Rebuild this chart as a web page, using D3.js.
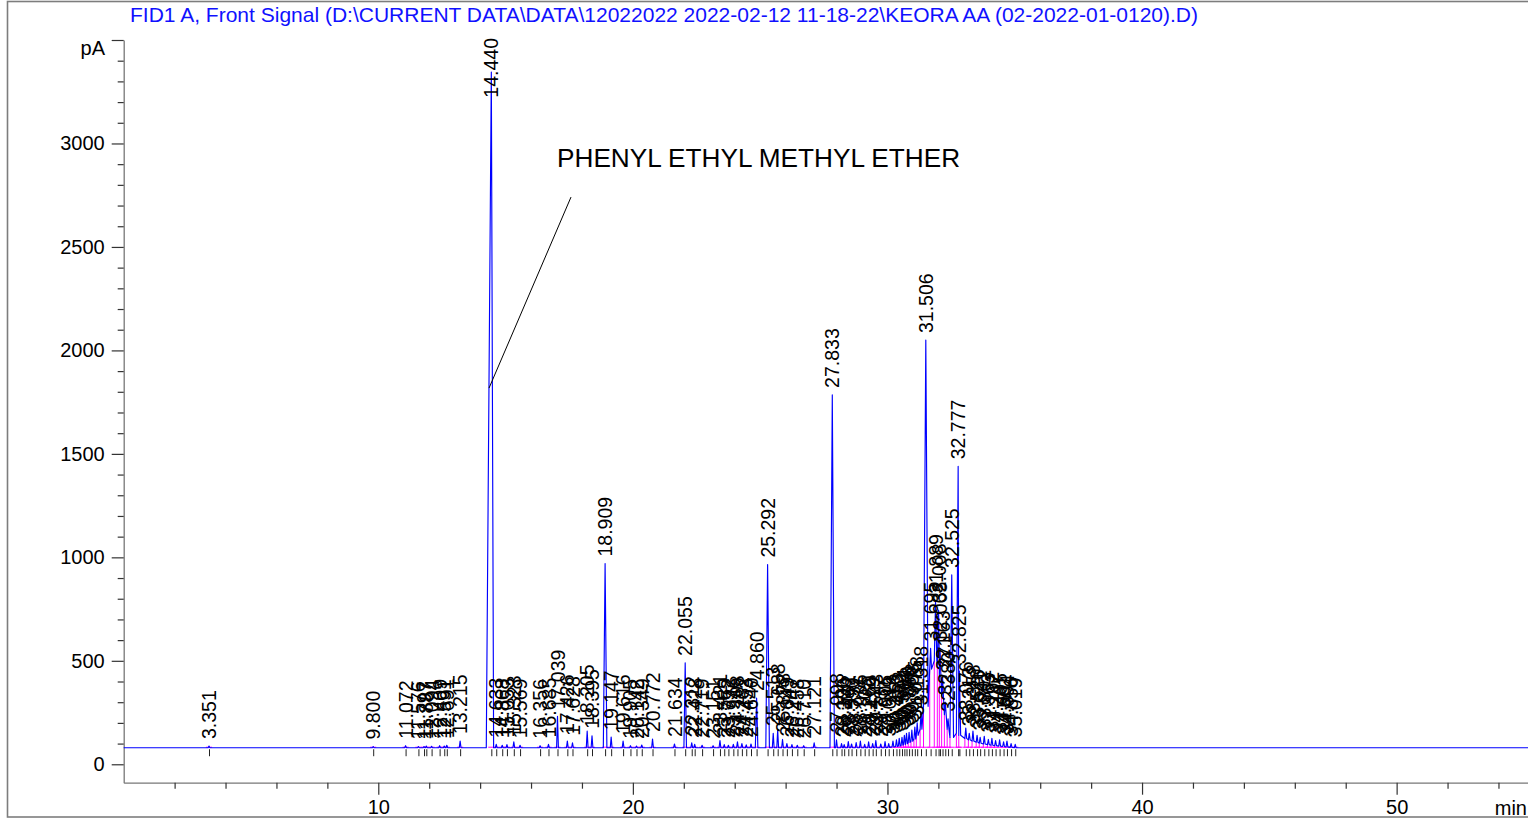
<!DOCTYPE html>
<html>
<head>
<meta charset="utf-8">
<script src="https://cdn.jsdelivr.net/npm/d3@7"></script>
<style>
  html, body { margin: 0; padding: 0; background: #fff; }
  svg { display: block; font-family: "Liberation Sans", Arial, sans-serif; }
</style>
</head>
<body>
<svg id="chart" width="1528" height="819"></svg>
<script>
// ---- chromatogram data -------------------------------------------------
const titleText = "FID1 A, Front Signal (D:\\CURRENT DATA\\DATA\\12022022 2022-02-12 11-18-22\\KEORA AA (02-2022-01-0120).D)";
const signalUnit = "pA";
const timeUnit = "min";
const yMajorTicks = [0, 500, 1000, 1500, 2000, 2500, 3000];
const xMajorTicks = [10, 20, 30, 40, 50];
const baselineSignal = 80;           // detector baseline, pA

// retention time (min) of every integrated peak
const retentionTimes = [
  3.351, 9.800, 11.072, 11.576, 11.797, 11.887, 12.094, 12.409, 12.591, 12.691, 13.215,
  14.440, 14.633, 14.868, 15.053, 15.323, 15.569,
  16.356, 16.685, 17.039, 17.426, 17.628, 18.205, 18.395, 18.909, 19.147, 19.616, 19.905, 20.142, 20.349, 20.772,
  21.634, 22.055, 22.312, 22.428, 22.719, 23.151, 23.421, 23.589, 23.752, 23.946, 24.108, 24.282, 24.453, 24.640, 24.860,
  25.292, 25.513, 25.688, 25.878, 26.049, 26.247, 26.458, 26.710, 27.121,
  27.833, 27.998, 28.196, 28.300, 28.462, 28.590, 28.771, 28.936, 29.105, 29.260, 29.419, 29.543, 29.737,
  29.905, 30.049, 30.216, 30.353, 30.462, 30.571, 30.664, 30.748, 30.850, 30.958, 31.075, 31.168, 31.318,
  31.506, 31.695, 31.889, 32.008, 32.065, 32.163, 32.271, 32.380, 32.525, 32.777, 32.825,
  33.076, 33.213, 33.358, 33.520, 33.641, 33.802, 33.963, 34.102, 34.247, 34.405, 34.561, 34.694, 34.856, 35.019
];

// signal at each peak apex, pA
const apexSignal = [
  88, 86, 90, 86, 85, 88, 87, 90, 88, 92, 112,
  3345, 96, 92, 95, 108, 92,
  90, 96, 232, 112, 104, 160, 138, 970, 132, 112, 90, 88, 93, 122,
  98, 490, 104, 96, 92, 90, 115, 95, 92, 96, 108, 100, 94, 98, 320,
  965, 150, 166, 120, 100, 95, 92, 90, 104,
  1785, 118, 100, 95, 110, 98, 105, 112, 96, 108, 100, 115, 98,
  110, 100, 112, 118, 125, 130, 140, 150, 155, 165, 180, 200, 250,
  2050, 560, 790, 745, 560, 420, 300, 220, 915, 1440, 450,
  175, 150, 160, 140, 130, 135, 120, 125, 115, 118, 108, 112, 100, 96
];

// signal level the peak sits on (raised where peaks co-elute), pA
const baseSignal = [
  80, 80, 80, 80, 80, 80, 80, 80, 80, 80, 80,
  80, 80, 80, 80, 80, 80,
  80, 80, 80, 80, 80, 80, 80, 80, 80, 80, 80, 80, 80, 80,
  80, 80, 80, 80, 80, 80, 80, 80, 80, 80, 80, 80, 80, 80, 80,
  80, 80, 80, 80, 80, 80, 80, 80, 80,
  80, 80, 80, 80, 80, 80, 80, 80, 80, 80, 80, 80, 80,
  80, 82, 84, 86, 88, 92, 96, 100, 106, 112, 122, 140, 170,
  280, 460, 500, 480, 420, 330, 240, 170, 130, 150, 140,
  125, 118, 112, 106, 102, 98, 95, 92, 90, 88, 86, 84, 82, 80
];

// callout naming the main component
const callout = { text: "PHENYL ETHYL METHYL ETHER", at: [17.02, 2886], from: [17.57, 2741], to: [14.35, 1818] };

// ---- layout -------------------------------------------------------------
const svg = d3.select("#chart");
const x = d3.scaleLinear().domain([0, 55.16]).range([123.7, 1528]);
const y = d3.scaleLinear().domain([-89, 3500]).range([782.7, 40]);
const fmt = d3.format(".3f");

// outer frame
svg.append("rect")
  .attr("x", 7.5).attr("y", 1.5).attr("width", 1540).attr("height", 815.5)
  .attr("fill", "none").attr("stroke", "#7d7d7d").attr("stroke-width", 1.6);

// title
svg.append("text")
  .attr("x", 130).attr("y", 21.5)
  .attr("fill", "#1010ff")
  .style("font-size", "21px")
  .text(titleText);

// ---- axes ---------------------------------------------------------------
const yMinor = d3.range(0, 3501, 100).filter(v => !yMajorTicks.includes(v) && v !== 3500);
const xMinor = d3.range(2, 55, 2).filter(v => !xMajorTicks.includes(v));

function styleAxis(g) {
  g.select(".domain").attr("stroke", "#777").attr("stroke-width", 1.3);
  g.selectAll(".tick line").attr("stroke", "#333").attr("stroke-width", 1.2);
  g.selectAll(".tick text").attr("fill", "#000").style("font-size", "20px")
    .style("font-family", '"Liberation Sans", Arial, sans-serif');
}

const yAxisG = svg.append("g").attr("transform", `translate(${x(0)},0)`);
yAxisG.call(d3.axisLeft(y).tickValues(yMajorTicks.concat([3500])).tickSize(12).tickSizeOuter(0).tickPadding(7)
  .tickFormat(d => d === 3500 ? "" : d3.format("d")(d)));
yAxisG.append("g").call(d3.axisLeft(y).tickValues(yMinor).tickSize(6).tickSizeOuter(0).tickFormat(""))
  .call(g => g.select(".domain").remove());
yAxisG.call(styleAxis);

svg.append("text").attr("x", x(0) - 18.7).attr("y", 55).attr("text-anchor", "end")
  .style("font-size", "20px").attr("fill", "#000").text(signalUnit);

const xAxisG = svg.append("g").attr("transform", `translate(0,${y(-89)})`);
xAxisG.call(d3.axisBottom(x).tickValues(xMajorTicks).tickSize(12).tickSizeOuter(0).tickPadding(5.5)
  .tickFormat(d3.format("d")));
xAxisG.append("g").call(d3.axisBottom(x).tickValues(xMinor).tickSize(6).tickSizeOuter(0).tickFormat(""))
  .call(g => g.select(".domain").remove());
xAxisG.call(styleAxis);

svg.append("text").attr("x", 1527).attr("y", 815).attr("text-anchor", "end")
  .style("font-size", "20px").attr("fill", "#000").text(timeUnit);

// ---- signal trace -------------------------------------------------------
const peaks = retentionTimes.map((t, i) => ({ t, apex: apexSignal[i], base: baseSignal[i] }));

function halfWidth(p) {
  const h = p.apex - p.base;
  return h > 1500 ? 0.09 : h > 600 ? 0.07 : h > 200 ? 0.05 : 0.035;
}

peaks.forEach((p, i) => {
  const hw = halfWidth(p);
  const prev = peaks[i - 1], next = peaks[i + 1];
  p.left = Math.max(p.t - hw * (p.apex > 3000 ? 2.2 : 1), prev ? (prev.t + p.t) / 2 : -Infinity);
  p.right = Math.min(p.t + hw, next ? (p.t + next.t) / 2 : Infinity);
});

const tracePts = [[0, baselineSignal]];
peaks.forEach(p => {
  tracePts.push([p.left, p.base], [p.t, p.apex], [p.right, p.base]);
});
tracePts.push([x.domain()[1], baselineSignal]);

const line = d3.line().x(d => x(d[0])).y(d => y(d[1]));

// integration baseline and drop lines
const integ = svg.append("g").attr("stroke", "#ff00ff").attr("stroke-width", 1).attr("fill", "none");
peaks.forEach(p => {
  integ.append("line")
    .attr("x1", x(p.t - 0.12)).attr("x2", x(p.t + 0.12))
    .attr("y1", y(baselineSignal) - 0.5).attr("y2", y(baselineSignal) - 0.5);
  if (p.base > baselineSignal + 8) {
    integ.append("line")
      .attr("x1", x(p.left)).attr("x2", x(p.left))
      .attr("y1", y(baselineSignal)).attr("y2", y(p.base));
  }
});

svg.append("path")
  .datum(tracePts)
  .attr("fill", "none")
  .attr("stroke", "#0000ff")
  .attr("stroke-width", 1.15)
  .attr("stroke-linejoin", "round")
  .attr("d", line);

// peak start/end markers under the baseline
svg.append("g").selectAll("line").data(peaks).join("line")
  .attr("x1", d => x(d.t) + 0.5).attr("x2", d => x(d.t) + 0.5)
  .attr("y1", y(baselineSignal) + 1.5).attr("y2", y(baselineSignal) + 8.5)
  .attr("stroke", "#222").attr("stroke-width", 1);

// ---- retention time labels ---------------------------------------------
const labels = svg.append("g").style("font-size", "19.5px").attr("fill", "#000");
peaks.forEach(p => {
  const txt = labels.append("text").attr("dy", "0.36em").text(fmt(p.t));
  const len = txt.node().getComputedTextLength();
  const bottom = Math.max(y(p.apex) - 7, 38 + len);
  txt.attr("transform", `translate(${x(p.t)},${bottom}) rotate(-90)`);
});

// ---- callout ------------------------------------------------------------
svg.append("text")
  .attr("x", x(callout.at[0])).attr("y", y(callout.at[1]))
  .style("font-size", "26.2px").attr("fill", "#000")
  .text(callout.text);
svg.append("line")
  .attr("x1", x(callout.from[0])).attr("y1", y(callout.from[1]))
  .attr("x2", x(callout.to[0])).attr("y2", y(callout.to[1]))
  .attr("stroke", "#000").attr("stroke-width", 1);
</script>
</body>
</html>
